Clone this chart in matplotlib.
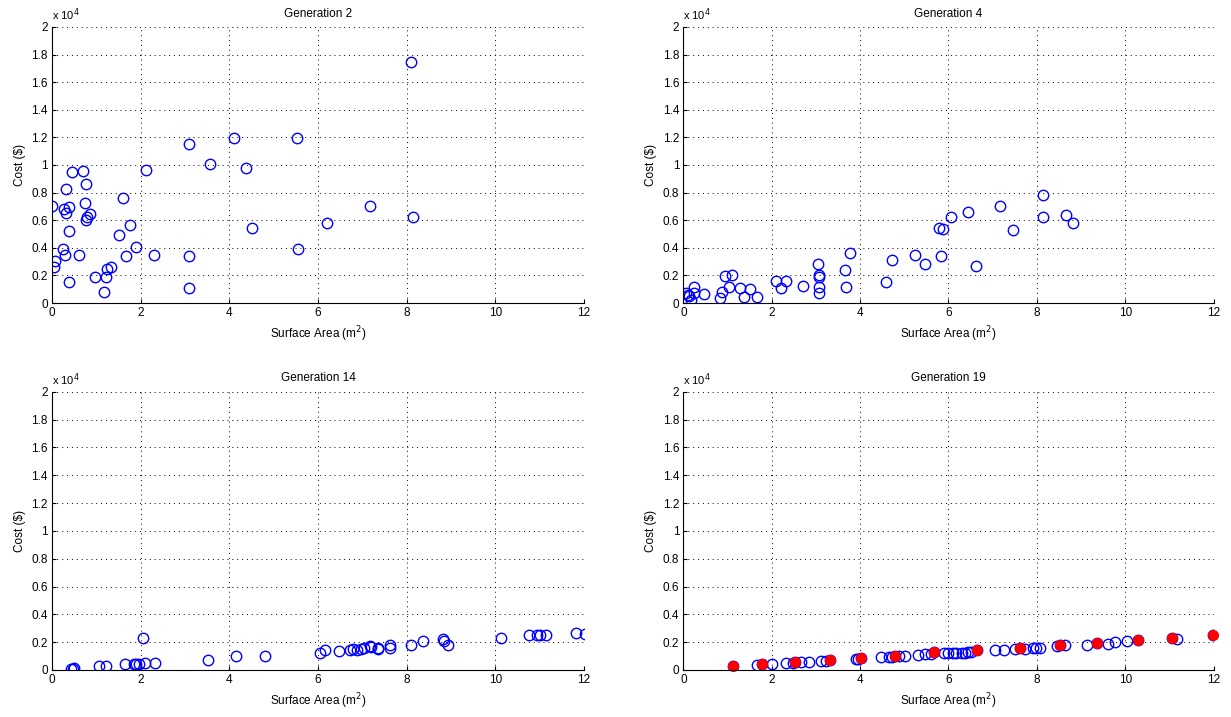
import matplotlib
matplotlib.use("Agg")
import matplotlib.pyplot as plt

plt.rcParams['font.family'] = ['Liberation Sans', 'DejaVu Sans']

# generation 2
g2_area = [0.01, 0.46, 0.69, 0.32, 0.76, 0.75, 0.27, 0.38, 0.31, 0.76, 0.80, 0.86,
           0.39, 1.60, 1.52, 1.77, 1.89, 1.67, 2.31, 2.13, 0.26, 0.30, 0.62, 0.06,
           0.04, 0.38, 0.97, 1.22, 1.24, 1.33, 1.17, 3.09, 3.57, 4.11, 4.38, 4.51,
           5.52, 5.54, 3.10, 3.09, 8.09, 7.17, 8.15, 6.20]
g2_cost = [7000, 9470, 9560, 8240, 8650, 7220, 6830, 6980, 6520, 6010, 6250, 6470,
           5240, 7630, 4950, 5650, 4080, 3430, 3480, 9640, 3930, 3480, 3460, 3040,
           2610, 1500, 1860, 1880, 2490, 2590, 780, 11500, 10100, 11980, 9780, 5460,
           11980, 3910, 3430, 1110, 17460, 7000, 6210, 5800]

# generation 4
g4_area = [0.05, 0.11, 0.16, 0.25, 0.25, 0.46, 0.12, 0.83, 0.87, 0.95, 1.11, 1.04,
           1.29, 1.50, 1.38, 1.67, 2.09, 2.33, 2.21, 2.71, 3.04, 3.06, 3.06, 3.06,
           3.06, 3.65, 3.77, 3.69, 4.58, 4.71, 5.24, 5.46, 5.84, 5.79, 5.87, 6.05,
           6.45, 7.16, 7.47, 6.62, 8.13, 8.13, 8.66, 8.82]
g4_cost = [750, 580, 220, 1140, 700, 630, 500, 340, 800, 1960, 2050, 1140,
           1090, 1040, 410, 460, 1620, 1620, 1090, 1250, 2800, 2000, 1860, 1180,
           720, 2370, 3600, 1180, 1520, 3120, 3500, 2830, 3410, 5460, 5340, 6250,
           6570, 7030, 5310, 2680, 7800, 6230, 6380, 5820]

# generation 14
g14_area = [0.44, 0.47, 0.49, 1.05, 1.21, 1.65, 1.85, 1.90, 1.97, 2.05, 2.11, 2.32,
            3.52, 4.16, 4.81, 6.04, 6.15, 6.47, 6.72, 6.79, 6.87, 6.98, 7.03, 7.17,
            7.19, 7.35, 7.35, 7.63, 7.63, 8.09, 8.38, 8.82, 8.84, 8.94, 10.13, 10.77,
            10.94, 11.00, 11.14, 11.81, 12.03]
g14_cost = [100, 80, 130, 310, 310, 410, 410, 460, 460, 2330, 530, 530,
            720, 1030, 1030, 1250, 1420, 1370, 1420, 1540, 1440, 1490, 1610, 1730,
            1660, 1610, 1490, 1780, 1560, 1830, 2050, 2210, 2050, 1830, 2290, 2500,
            2500, 2500, 2500, 2670, 2620]

# generation 19, all designs
g19_area = [1.13, 1.67, 1.78, 2.01, 2.33, 2.48, 2.53, 2.66, 2.85, 3.12, 3.23, 3.31,
            3.90, 3.95, 4.01, 4.48, 4.65, 4.72, 4.80, 4.89, 5.02, 5.32, 5.47, 5.60,
            5.67, 5.90, 6.00, 6.11, 6.18, 6.30, 6.37, 6.45, 6.52, 6.64, 7.06, 7.26,
            7.50, 7.61, 7.74, 7.92, 7.98, 8.08, 8.45, 8.52, 8.64, 9.14, 9.37, 9.60,
            9.76, 10.05, 10.28, 11.05, 11.17, 11.98]
g19_cost = [260, 340, 430, 450, 480, 520, 570, 550, 570, 640, 660, 710,
            810, 810, 860, 910, 930, 950, 1020, 980, 1000, 1090, 1120, 1140,
            1260, 1240, 1240, 1210, 1230, 1240, 1250, 1260, 1260, 1410, 1410, 1450,
            1500, 1570, 1500, 1600, 1600, 1600, 1690, 1760, 1760, 1830, 1930, 1900,
            2020, 2090, 2140, 2290, 2260, 2480]

# generation 19, pareto front
front_area = [1.13, 1.78, 2.53, 3.31, 4.01, 4.80, 5.67, 6.64, 7.61, 8.52, 9.37,
              10.28, 11.05, 11.98]
front_cost = [260, 430, 570, 710, 860, 1020, 1260, 1410, 1570, 1760, 1930,
              2140, 2290, 2480]

x_ticks = list(range(0, 13, 2))
y_ticks = [i * 2000 for i in range(11)]
y_labels = ['0', '0.2', '0.4', '0.6', '0.8', '1', '1.2', '1.4', '1.6', '1.8', '2']

FS = 8.5


def style_axes(ax, title):
    ax.set_xlim(0, 12)
    ax.set_ylim(0, 20000)
    ax.set_xticks(x_ticks)
    ax.set_yticks(y_ticks)
    ax.set_yticklabels(y_labels)
    ax.tick_params(direction='in', labelsize=FS, length=3, width=0.8, pad=3)
    ax.spines['top'].set_visible(False)
    ax.spines['right'].set_visible(False)
    ax.grid(True, linestyle=(0, (1, 4)), color='black', linewidth=0.7)
    ax.set_axisbelow(True)
    ax.set_title(title, fontsize=FS, pad=7.5)
    ax.set_xlabel('Surface Area (m$^2$)', fontsize=FS, labelpad=4)
    ax.set_ylabel('Cost (\\$)', fontsize=FS, labelpad=4)
    ax.text(0.0, 1.015, 'x 10$^4$', transform=ax.transAxes, fontsize=FS - 0.5,
            ha='left', va='bottom')


fig = plt.figure(figsize=(12.31, 7.17), dpi=100)
ax1 = fig.add_axes([0.0422, 0.5774, 0.4322, 0.385])
ax2 = fig.add_axes([0.5552, 0.5774, 0.4306, 0.385])
ax3 = fig.add_axes([0.0422, 0.0656, 0.4322, 0.388])
ax4 = fig.add_axes([0.5552, 0.0656, 0.4306, 0.388])

circle = dict(linestyle='none', marker='o', markersize=7.5, markerfacecolor='none',
              markeredgecolor='#0000ff', markeredgewidth=1.0)

ax1.plot(g2_area, g2_cost, **circle)
style_axes(ax1, 'Generation 2')

ax2.plot(g4_area, g4_cost, **circle)
style_axes(ax2, 'Generation 4')

ax3.plot(g14_area, g14_cost, **circle)
style_axes(ax3, 'Generation 14')

ax4.plot(g19_area, g19_cost, **circle)
ax4.plot(front_area, front_cost, linestyle='none', marker='o', markersize=7,
         color='#ff0000', clip_on=False)
style_axes(ax4, 'Generation 19')

fig.savefig('out.png', dpi=100)
